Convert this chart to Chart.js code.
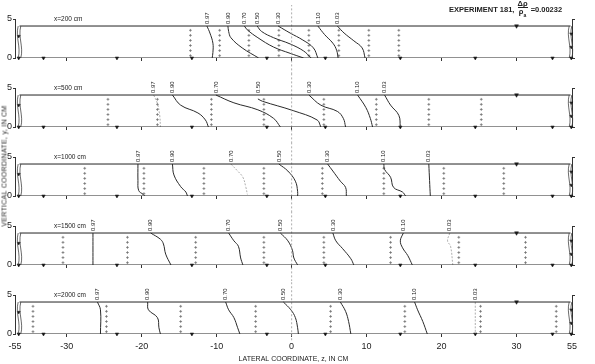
<!DOCTYPE html>
<html>
<head>
<meta charset="utf-8">
<script src="https://cdn.jsdelivr.net/npm/chart.js@4.4.1/dist/chart.umd.min.js"></script>
<style>
  html, body { margin: 0; padding: 0; background: #fff; }
  #wrap { position: relative; width: 595px; height: 364px; overflow: hidden; background: #fff; }
  #exp { position: absolute; left: 449px; top: 0px; font: bold 7.5px "Liberation Sans", Arial, sans-serif; color: #222; display: flex; align-items: center; white-space: nowrap; }
  #exp .frac { display: inline-flex; flex-direction: column; align-items: center; line-height: 7px; margin: 0 1px; }
  #exp .frac span:first-child { border-bottom: 0.8px solid #222; }
  #ytitle { position: absolute; left: 4px; top: 166px; width: 0; height: 0; }
  #ytitle span { position: absolute; left: 0; top: 0; transform: translate(-50%, -50%) rotate(-90deg); white-space: nowrap; font: 7px "Liberation Sans", Arial, sans-serif; letter-spacing: 0.3px; color: #222; }
</style>
</head>
<body>
<div id="wrap">
  <div id="exp"><span>EXPERIMENT 181,&nbsp;</span><span class="frac"><span>Δρ</span><span>ρ<sub style="font-size:5px">a</sub></span></span><span>&nbsp;=0.00232</span></div>
  <div id="ytitle"><span>VERTICAL COORDINATE, y, IN CM</span></div>
</div>
<script>
// concentration levels labelled on the contours
const levels = ['0.97', '0.90', '0.70', '0.50', '0.30', '0.10', '0.03'];
const sections = ['x=200 cm', 'x=500 cm', 'x=1000 cm', 'x=1500 cm', 'x=2000 cm'];

// lateral axis is broken: the ends stand for -55 and 55
const xTickValues = [-36.9, -30, -20, -10, 0, 10, 20, 30, 37.4];
const xTickText = ['-55', '-30', '-20', '-10', '0', '10', '20', '30', '55'];
const yTickValues = [0, 5];
const surface = 4.1;
const flumeLeft = -36.3;
const flumeRight = 37.2;

// contour lines, [z, y] from the surface down
const contours200 = [
  [[-11.3, 4.1], [-10.9, 3.2], [-10.5, 1.9], [-10.5, 0.7], [-10.6, 0]],
  [[-8.5, 4.1], [-8.4, 3.4], [-8.1, 2.6], [-6.6, 1.3], [-4.4, 0]],
  [[-6.3, 4.1], [-5.9, 3.6], [-4.5, 2.6], [-2.4, 1.4], [-0.2, 0.6], [1.6, 0]],
  [[-4.6, 4.1], [-4.0, 3.4], [-2.4, 2.6], [-0.2, 1.8], [1.6, 0.9], [2.6, 0]],
  [[-1.8, 4.1], [-0.2, 3.2], [1.5, 2.3], [2.9, 1.3], [3.5, 0]],
  [[3.5, 4.1], [4.4, 3.0], [5.5, 1.9], [6.0, 1.0], [6.2, 0]],
  [[6.1, 4.1], [7.0, 3.2], [8.3, 2.2], [9.4, 1.3], [9.8, 0]]
];
const contours500 = [
  [[-18.4, 4.1], [-17.9, 3.0], [-17.6, 1.5], [-17.5, 0]],
  [[-15.9, 4.1], [-14.8, 2.8], [-12.5, 1.8], [-11.5, 0.9], [-11.1, 0]],
  [[-10.1, 4.1], [-7.7, 3.1], [-4.5, 2.2], [-2.4, 1.1], [-1.5, 0]],
  [[-4.5, 3.6], [-3.9, 3.3], [0.2, 2.1], [3.4, 0.9], [3.9, 0]],
  [[2.3, 4.1], [3.9, 2.8], [6.1, 2.0], [6.9, 1.1], [7.2, 0]],
  [[8.8, 4.1], [9.9, 2.5], [10.5, 1.1], [10.8, 0]],
  [[12.4, 4.1], [13.2, 2.8], [14.3, 1.5], [14.5, 0]]
];
const contours1000 = [
  [[-20.5, 4.1], [-20.5, 2.0], [-20.4, 0.7], [-19.8, 0.2], [-19.6, 0]],
  [[-15.9, 4.1], [-15.7, 2.7], [-14.8, 1.2], [-14.1, 0.5], [-13.9, 0]],
  [[-8.1, 4.1], [-7.2, 3.2], [-6.5, 2.4], [-6.1, 1.1], [-5.9, 0.2]],
  [[-1.7, 4.1], [-0.5, 3.2], [0.5, 1.9], [0.8, 0.6], [0.8, 0]],
  [[4.8, 4.1], [5.5, 3.2], [6.5, 1.9], [7.2, 1.1], [7.3, 0]],
  [[12.3, 4.1], [12.4, 3.4], [13.2, 2.4], [13.6, 1.1], [14.8, 0.5], [15.2, 0]],
  [[18.3, 4.1], [18.4, 2.0], [18.5, 0]]
];
const contours1500 = [
  [[-26.5, 4.1], [-26.5, 0]],
  [[-18.8, 4.1], [-17.5, 3.3], [-17.1, 2.7], [-16.8, 1.4], [-16.1, 0]],
  [[-8.4, 4.1], [-7.7, 3.1], [-7.1, 2.4], [-6.8, 0.9], [-6.5, 0]],
  [[-1.5, 4.1], [-0.5, 3.1], [0.1, 1.9], [0.3, 0.9], [0.8, 0]],
  [[5.5, 4.1], [5.9, 3.1], [6.8, 2.1], [7.9, 0.8], [8.3, 0]],
  [[14.9, 4.1], [14.5, 3.1], [14.8, 2.2], [15.5, 1.2], [16.1, 0]],
  [[21.1, 4.1], [20.8, 3.1], [21.2, 2.4], [21.5, 0]]
];
const contours2000 = [
  [[-25.9, 4.1], [-25.5, 3.1], [-25.5, 0]],
  [[-19.2, 4.1], [-19.1, 3.1], [-17.9, 2.1], [-17.7, 0.8], [-17.5, 0]],
  [[-8.8, 4.1], [-8.4, 3.1], [-7.7, 2.1], [-7.2, 0.8], [-6.9, 0]],
  [[-1.1, 4.1], [-0.1, 3.1], [0.5, 2.1], [0.8, 0.8], [0.9, 0]],
  [[6.5, 4.1], [7.2, 2.9], [7.6, 1.6], [7.9, 0]],
  [[16.4, 4.1], [16.8, 3.1], [17.5, 1.6], [18.1, 0]],
  [[24.5, 4.1], [24.5, 0]]
];
// which contours are drawn faint in each section
const faintLevels = [[], [0], [2], [6], [6]];

// sampling stations (z) and sample heights (y)
const stations200 = [-13.5, -9.6, -5.7, -1.7, 2.3, 6.3, 10.3, 14.3];
const stations500 = [-24.5, -17.9, -10.7, -3.7, 4.3, 11.3, 18.3, 25.3];
const stations1000 = [-27.6, -19.7, -11.7, -3.7, 4.1, 12.3, 20.3, 28.3];
const stations1500 = [-30.5, -21.9, -12.8, -3.7, 4.3, 13.2, 22.3, 31.2];
const stations2000 = [-34.5, -24.7, -14.8, -4.8, 5.2, 15.1, 25.2, 35.3];
const stationHeights = [0.3, 0.95, 1.6, 2.25, 2.9, 3.55];

// small marks on the bed and walls, and the probe on the surface
const bedMarks = [-36.4, -33.1, -23.3, -13.3, -3.3, 4.5, 14.5, 24.5, 34.8, 37.3];
const wallMarks = [[-36.4, 2.8], [37.3, 3.1], [37.3, 1.4]];
const probeZ = 30;
const sectionLabelZ = -31.7;

const allContours = [contours200, contours500, contours1000, contours1500, contours2000];
const allStations = [stations200, stations500, stations1000, stations1500, stations2000];

Chart.defaults.font.family = '"Liberation Sans", Arial, sans-serif';
Chart.defaults.color = '#222';

const decor = {
  id: 'decor',
  afterDatasetsDraw(chart, args, opts) {
    const { ctx, scales: { x, y } } = chart;
    const yt = y.getPixelForValue(surface);
    const yb = y.getPixelForValue(0);
    ctx.save();
    // break symbols at both ends
    ctx.strokeStyle = '#444';
    ctx.lineWidth = 0.8;
    [flumeLeft, flumeRight].forEach(v => {
      const px = x.getPixelForValue(v);
      [-1.3, 1.3].forEach(d => {
        ctx.beginPath();
        ctx.moveTo(px + d, yt);
        ctx.bezierCurveTo(px + d - 3, yt + (yb - yt) * 0.35, px + d + 3, yt + (yb - yt) * 0.65, px + d, yb);
        ctx.stroke();
      });
    });
    // level labels above the contour tops
    ctx.fillStyle = '#222';
    ctx.font = '6px "Liberation Sans", Arial, sans-serif';
    ctx.textBaseline = 'middle';
    ctx.textAlign = 'left';
    chart.data.datasets.forEach(ds => {
      if (!ds.level) return;
      const px = x.getPixelForValue(ds.data[0].x);
      ctx.save();
      ctx.translate(px, yt - 2);
      ctx.rotate(-Math.PI / 2);
      ctx.fillText(ds.level, 0, 0);
      ctx.restore();
    });
    // section name
    ctx.font = '6.5px "Liberation Sans", Arial, sans-serif';
    ctx.fillText(opts.section, x.getPixelForValue(sectionLabelZ), y.getPixelForValue(5));
    ctx.restore();
  }
};

const wrap = document.getElementById('wrap');

sections.forEach((name, i) => {
  const last = i === sections.length - 1;
  const canvas = document.createElement('canvas');
  canvas.width = 595;
  canvas.height = last ? 83 : 69;
  canvas.style.cssText = 'position:absolute;left:0;top:' + (5 + i * 69) + 'px';
  wrap.insertBefore(canvas, wrap.firstChild);

  const line = { showLine: true, pointRadius: 0, borderColor: '#222', borderWidth: 1 };
  const datasets = [
    { ...line, data: [{ x: flumeLeft, y: surface }, { x: flumeRight, y: surface }] },
    { ...line, data: [{ x: flumeLeft, y: 0 }, { x: flumeRight, y: 0 }] },
    { ...line, data: [{ x: 0, y: last ? -0.8 : -2.1 }, { x: 0, y: 6.8 }], borderColor: '#999', borderWidth: 0.8, borderDash: [2, 2], clip: false }
  ];

  allContours[i].forEach((c, k) => {
    const faint = faintLevels[i].includes(k);
    datasets.push({
      level: levels[k],
      data: c.map(([z, h]) => ({ x: z, y: h })),
      showLine: true,
      tension: 0.4,
      pointRadius: 0,
      borderColor: faint ? '#a5a5a5' : '#2a2a2a',
      borderWidth: faint ? 0.9 : 1,
      borderDash: faint ? [2, 1.5] : []
    });
  });

  datasets.push({
    data: allStations[i].flatMap(z => stationHeights.map(h => ({ x: z, y: h }))),
    pointStyle: 'cross', pointRadius: 1.4, borderColor: '#666', borderWidth: 0.7
  });
  datasets.push({
    data: bedMarks.map(z => ({ x: z, y: 0 })),
    pointStyle: 'triangle', rotation: 60, pointRadius: 2,
    backgroundColor: '#111', borderColor: '#111', borderWidth: 0.5, clip: false
  });
  datasets.push({
    data: wallMarks.map(([z, h]) => ({ x: z, y: h })),
    pointStyle: 'triangle', rotation: 60, pointRadius: 1.8,
    backgroundColor: '#111', borderColor: '#111', borderWidth: 0.5, clip: false
  });
  datasets.push({
    data: [{ x: probeZ, y: surface }],
    pointStyle: 'triangle', rotation: 180, pointRadius: 2.3,
    backgroundColor: '#111', borderColor: '#111', borderWidth: 0.5, clip: false
  });

  new Chart(canvas, {
    type: 'scatter',
    data: { datasets },
    plugins: [decor],
    options: {
      responsive: false,
      animation: false,
      events: [],
      layout: { padding: { top: 14, right: 19, left: 0, bottom: 0 } },
      plugins: {
        legend: { display: false },
        tooltip: { enabled: false },
        decor: { section: name }
      },
      scales: {
        x: {
          type: 'linear',
          min: xTickValues[0],
          max: xTickValues[xTickValues.length - 1],
          afterBuildTicks: s => { s.ticks = xTickValues.map(v => ({ value: v })); },
          afterFit: s => { s.height = last ? 30 : 16; },
          ticks: {
            display: last, autoSkip: false, maxRotation: 0, padding: 4,
            font: { size: 9 }, color: '#222',
            callback: (v, idx) => xTickText[idx]
          },
          grid: {
            drawOnChartArea: false, drawTicks: true, tickLength: 3,
            color: c => (c.index === 0 || c.index === xTickValues.length - 1) ? 'rgba(0,0,0,0)' : '#333'
          },
          border: { display: false },
          title: {
            display: last, text: 'LATERAL COORDINATE, z, IN CM',
            font: { size: 7 }, color: '#222', padding: { top: 0, bottom: 1 }
          }
        },
        y: {
          min: 0, max: 5, position: 'left',
          afterBuildTicks: s => { s.ticks = yTickValues.map(v => ({ value: v })); },
          afterFit: s => { s.width = 15; },
          ticks: { padding: 1, font: { size: 9 }, color: '#222' },
          grid: { drawOnChartArea: false, tickLength: 2, color: '#333' },
          border: { display: true, color: '#333', width: 1 }
        },
        y2: {
          min: 0, max: 5, position: 'right',
          afterBuildTicks: s => { s.ticks = yTickValues.map(v => ({ value: v })); },
          afterFit: s => { s.width = 4; },
          ticks: { display: false },
          grid: { drawOnChartArea: false, tickLength: 3, color: '#333' },
          border: { display: true, color: '#333', width: 1 }
        }
      }
    }
  });
});
</script>
</body>
</html>
